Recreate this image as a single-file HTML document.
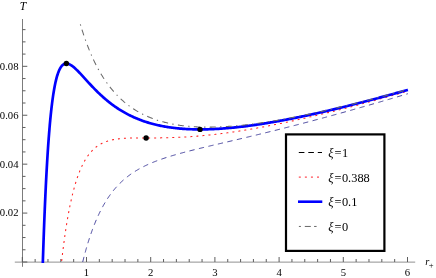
<!DOCTYPE html>
<html><head><meta charset="utf-8"><title>plot</title><style>html,body{margin:0;padding:0;background:#fff}svg{display:block;will-change:transform}</style></head><body>
<svg width="436" height="278" viewBox="0 0 436 278">
<rect width="436" height="278" fill="#fff"/>
<g stroke="#7c7c7c" stroke-width="1" fill="none">
<line x1="14.8" y1="262.12" x2="415.2" y2="262.12" stroke-width="0.85"/>
<line x1="22.5" y1="19" x2="22.5" y2="266.8"/>
</g>
<g stroke="#555555" stroke-width="0.95" fill="none">
<line x1="22.30" y1="262.0" x2="22.30" y2="257.0"/>
<line x1="35.14" y1="262.0" x2="35.14" y2="259.0"/>
<line x1="47.98" y1="262.0" x2="47.98" y2="259.0"/>
<line x1="60.82" y1="262.0" x2="60.82" y2="259.0"/>
<line x1="73.66" y1="262.0" x2="73.66" y2="259.0"/>
<line x1="86.50" y1="262.0" x2="86.50" y2="257.0"/>
<line x1="99.34" y1="262.0" x2="99.34" y2="259.0"/>
<line x1="112.18" y1="262.0" x2="112.18" y2="259.0"/>
<line x1="125.02" y1="262.0" x2="125.02" y2="259.0"/>
<line x1="137.86" y1="262.0" x2="137.86" y2="259.0"/>
<line x1="150.70" y1="262.0" x2="150.70" y2="257.0"/>
<line x1="163.54" y1="262.0" x2="163.54" y2="259.0"/>
<line x1="176.38" y1="262.0" x2="176.38" y2="259.0"/>
<line x1="189.22" y1="262.0" x2="189.22" y2="259.0"/>
<line x1="202.06" y1="262.0" x2="202.06" y2="259.0"/>
<line x1="214.90" y1="262.0" x2="214.90" y2="257.0"/>
<line x1="227.74" y1="262.0" x2="227.74" y2="259.0"/>
<line x1="240.58" y1="262.0" x2="240.58" y2="259.0"/>
<line x1="253.42" y1="262.0" x2="253.42" y2="259.0"/>
<line x1="266.26" y1="262.0" x2="266.26" y2="259.0"/>
<line x1="279.10" y1="262.0" x2="279.10" y2="257.0"/>
<line x1="291.94" y1="262.0" x2="291.94" y2="259.0"/>
<line x1="304.78" y1="262.0" x2="304.78" y2="259.0"/>
<line x1="317.62" y1="262.0" x2="317.62" y2="259.0"/>
<line x1="330.46" y1="262.0" x2="330.46" y2="259.0"/>
<line x1="343.30" y1="262.0" x2="343.30" y2="257.0"/>
<line x1="356.14" y1="262.0" x2="356.14" y2="259.0"/>
<line x1="368.98" y1="262.0" x2="368.98" y2="259.0"/>
<line x1="381.82" y1="262.0" x2="381.82" y2="259.0"/>
<line x1="394.66" y1="262.0" x2="394.66" y2="259.0"/>
<line x1="407.50" y1="262.0" x2="407.50" y2="257.0"/>
<line x1="22.5" y1="262.00" x2="27.3" y2="262.00"/>
<line x1="22.5" y1="249.77" x2="25.5" y2="249.77"/>
<line x1="22.5" y1="237.54" x2="25.5" y2="237.54"/>
<line x1="22.5" y1="225.31" x2="25.5" y2="225.31"/>
<line x1="22.5" y1="213.08" x2="27.3" y2="213.08"/>
<line x1="22.5" y1="200.85" x2="25.5" y2="200.85"/>
<line x1="22.5" y1="188.62" x2="25.5" y2="188.62"/>
<line x1="22.5" y1="176.39" x2="25.5" y2="176.39"/>
<line x1="22.5" y1="164.16" x2="27.3" y2="164.16"/>
<line x1="22.5" y1="151.93" x2="25.5" y2="151.93"/>
<line x1="22.5" y1="139.70" x2="25.5" y2="139.70"/>
<line x1="22.5" y1="127.47" x2="25.5" y2="127.47"/>
<line x1="22.5" y1="115.24" x2="27.3" y2="115.24"/>
<line x1="22.5" y1="103.01" x2="25.5" y2="103.01"/>
<line x1="22.5" y1="90.78" x2="25.5" y2="90.78"/>
<line x1="22.5" y1="78.55" x2="25.5" y2="78.55"/>
<line x1="22.5" y1="66.32" x2="27.3" y2="66.32"/>
<line x1="22.5" y1="54.09" x2="25.5" y2="54.09"/>
<line x1="22.5" y1="41.86" x2="25.5" y2="41.86"/>
<line x1="22.5" y1="29.63" x2="25.5" y2="29.63"/>
</g>
<path d="M82.70 262.00 L82.94 261.03 L83.19 260.06 L83.43 259.09 L83.68 258.12 L83.93 257.15 L84.19 256.18 L84.44 255.21 L84.70 254.25 L84.96 253.28 L85.23 252.31 L85.49 251.35 L85.76 250.38 L86.03 249.42 L86.31 248.46 L86.59 247.49 L86.87 246.53 L87.15 245.57 L87.44 244.61 L87.73 243.65 L88.03 242.69 L88.32 241.74 L88.62 240.78 L88.93 239.82 L89.23 238.87 L89.54 237.92 L89.86 236.96 L90.18 236.01 L90.50 235.06 L90.83 234.11 L91.15 233.17 L91.49 232.22 L91.83 231.27 L92.17 230.33 L92.51 229.39 L92.86 228.45 L93.22 227.52 L93.57 226.58 L93.94 225.65 L94.30 224.71 L94.68 223.78 L95.05 222.86 L95.43 221.93 L95.82 221.01 L96.21 220.08 L96.61 219.16 L97.01 218.24 L97.42 217.33 L97.83 216.41 L98.25 215.50 L98.68 214.59 L99.11 213.68 L99.54 212.78 L99.99 211.88 L100.43 210.98 L100.89 210.09 L101.35 209.20 L101.81 208.31 L102.29 207.43 L102.77 206.55 L103.25 205.67 L103.75 204.80 L104.25 203.93 L104.75 203.07 L105.27 202.21 L105.79 201.35 L106.32 200.50 L106.86 199.65 L107.40 198.81 L107.95 197.97 L108.51 197.14 L109.08 196.31 L109.65 195.50 L110.24 194.68 L110.83 193.87 L111.43 193.07 L112.04 192.27 L112.65 191.48 L113.28 190.69 L113.91 189.92 L114.55 189.15 L115.20 188.38 L115.86 187.62 L116.53 186.87 L117.20 186.13 L117.89 185.40 L118.58 184.67 L119.28 183.95 L119.99 183.24 L120.71 182.54 L121.43 181.85 L122.17 181.17 L122.91 180.49 L123.66 179.83 L124.41 179.17 L125.18 178.52 L125.95 177.88 L126.73 177.25 L127.51 176.63 L128.30 176.02 L129.11 175.42 L129.91 174.83 L130.73 174.24 L131.55 173.67 L132.37 173.10 L133.21 172.55 L134.05 172.00 L134.90 171.46 L135.75 170.93 L136.60 170.41 L137.47 169.90 L138.33 169.40 L139.21 168.90 L140.08 168.42 L140.96 167.94 L141.85 167.47 L142.74 167.01 L143.63 166.56 L144.53 166.11 L145.43 165.67 L146.34 165.24 L147.25 164.82 L148.16 164.40 L149.08 163.99 L150.00 163.59 L150.92 163.20 L151.85 162.81 L152.77 162.42 L153.70 162.05 L154.63 161.68 L155.57 161.31 L156.51 160.95 L157.44 160.60 L158.38 160.25 L159.33 159.91 L160.27 159.57 L161.22 159.24 L162.16 158.91 L163.11 158.58 L164.06 158.26 L165.02 157.95 L165.97 157.64 L166.92 157.33 L167.88 157.02 L168.84 156.72 L169.80 156.43 L170.75 156.13 L171.71 155.84 L172.67 155.55 L173.63 155.27 L174.60 154.99 L175.56 154.71 L176.53 154.43 L177.49 154.16 L178.46 153.89 L179.43 153.62 L180.39 153.36 L181.36 153.09 L182.33 152.83 L183.30 152.57 L184.26 152.31 L185.23 152.06 L186.20 151.80 L187.17 151.55 L188.15 151.30 L189.12 151.05 L190.09 150.80 L191.06 150.55 L192.03 150.31 L193.00 150.06 L193.98 149.82 L194.95 149.58 L195.93 149.34 L196.90 149.10 L197.87 148.86 L198.85 148.62 L199.82 148.38 L200.80 148.14 L201.78 147.91 L202.75 147.67 L203.73 147.44 L204.70 147.20 L205.68 146.97 L206.65 146.74 L207.63 146.50 L208.61 146.27 L209.58 146.04 L210.56 145.81 L211.53 145.58 L212.51 145.35 L213.48 145.12 L214.46 144.89 L215.44 144.66 L216.41 144.43 L217.39 144.20 L218.37 143.97 L219.34 143.74 L220.32 143.52 L221.30 143.29 L222.27 143.06 L223.25 142.83 L224.23 142.60 L225.20 142.37 L226.18 142.14 L227.15 141.92 L228.13 141.69 L229.11 141.46 L230.09 141.23 L231.07 141.00 L232.04 140.77 L233.02 140.54 L233.99 140.31 L234.97 140.08 L235.95 139.85 L236.93 139.62 L237.91 139.39 L238.88 139.16 L239.86 138.93 L240.84 138.70 L241.81 138.47 L242.79 138.24 L243.77 138.01 L244.74 137.77 L245.72 137.54 L246.69 137.31 L247.67 137.08 L248.65 136.85 L249.62 136.61 L250.60 136.38 L251.58 136.14 L252.56 135.91 L253.53 135.68 L254.51 135.44 L255.48 135.21 L256.46 134.97 L257.43 134.73 L258.41 134.50 L259.39 134.26 L260.36 134.02 L261.34 133.79 L262.31 133.55 L263.29 133.31 L264.27 133.07 L265.24 132.83 L266.22 132.59 L267.20 132.35 L268.17 132.11 L269.14 131.87 L270.12 131.63 L271.10 131.39 L272.07 131.15 L273.05 130.91 L274.02 130.67 L274.99 130.42 L275.97 130.18 L276.94 129.94 L277.91 129.69 L278.89 129.45 L279.87 129.20 L280.84 128.96 L281.81 128.71 L282.79 128.47 L283.76 128.22 L284.73 127.98 L285.71 127.73 L286.69 127.48 L287.66 127.23 L288.63 126.99 L289.61 126.74 L290.58 126.49 L291.55 126.24 L292.52 125.99 L293.50 125.74 L294.47 125.49 L295.44 125.24 L296.41 124.98 L297.39 124.73 L298.36 124.48 L299.33 124.23 L300.31 123.97 L301.28 123.72 L302.25 123.47 L303.23 123.21 L304.20 122.96 L305.18 122.70 L306.14 122.45 L307.12 122.19 L308.09 121.93 L309.07 121.68 L310.03 121.42 L311.01 121.16 L311.98 120.90 L312.95 120.65 L313.92 120.39 L314.89 120.13 L315.86 119.87 L316.84 119.61 L317.80 119.35 L318.77 119.09 L319.74 118.83 L320.72 118.57 L321.69 118.31 L322.66 118.04 L323.63 117.78 L324.60 117.52 L325.57 117.26 L326.54 116.99 L327.51 116.73 L328.48 116.47 L329.45 116.20 L330.42 115.94 L331.39 115.67 L332.35 115.41 L333.32 115.14 L334.30 114.87 L335.27 114.61 L336.24 114.34 L337.20 114.07 L338.17 113.81 L339.14 113.54 L340.12 113.27 L341.08 113.00 L342.05 112.73 L343.02 112.46 L343.99 112.19 L344.96 111.92 L345.93 111.65 L346.89 111.38 L347.86 111.11 L348.83 110.84 L349.80 110.57 L350.77 110.30 L351.73 110.02 L352.70 109.75 L353.67 109.48 L354.64 109.20 L355.60 108.93 L356.56 108.66 L357.53 108.39 L358.50 108.11 L359.47 107.84 L360.44 107.56 L361.40 107.29 L362.36 107.01 L363.33 106.74 L364.30 106.46 L365.27 106.18 L366.24 105.90 L367.20 105.63 L368.16 105.35 L369.13 105.07 L370.10 104.80 L371.07 104.52 L372.04 104.24 L373.00 103.96 L373.96 103.68 L374.93 103.40 L375.89 103.12 L376.86 102.84 L377.83 102.56 L378.79 102.28 L379.76 102.00 L380.72 101.72 L381.69 101.44 L382.65 101.16 L383.62 100.87 L384.58 100.59 L385.54 100.31 L386.51 100.03 L387.47 99.75 L388.44 99.46 L389.41 99.18 L390.38 98.89 L391.34 98.61 L392.30 98.33 L393.26 98.04 L394.23 97.76 L395.19 97.47 L396.16 97.19 L397.13 96.90 L398.09 96.61 L399.05 96.33 L400.01 96.04 L400.98 95.76 L401.94 95.47 L402.91 95.18 L403.88 94.89 L404.84 94.61 L405.80 94.32 L406.76 94.03 L407.73 93.74 L407.90 93.69" fill="none" stroke="#3f3d99" stroke-width="0.95" stroke-dasharray="5.3 4.45"/>
<path d="M61.55 262.00 L61.66 261.00 L61.78 260.01 L61.89 259.02 L62.01 258.02 L62.12 257.03 L62.24 256.03 L62.36 255.04 L62.48 254.04 L62.60 253.05 L62.72 252.05 L62.84 251.06 L62.97 250.06 L63.09 249.07 L63.22 248.07 L63.34 247.08 L63.47 246.08 L63.60 245.08 L63.73 244.09 L63.86 243.09 L64.00 242.09 L64.13 241.10 L64.27 240.11 L64.40 239.11 L64.54 238.12 L64.68 237.13 L64.82 236.13 L64.96 235.14 L65.11 234.15 L65.25 233.15 L65.40 232.16 L65.55 231.17 L65.69 230.18 L65.85 229.18 L66.00 228.19 L66.15 227.19 L66.31 226.20 L66.47 225.21 L66.63 224.21 L66.79 223.23 L66.95 222.23 L67.11 221.25 L67.28 220.26 L67.45 219.26 L67.62 218.28 L67.79 217.29 L67.97 216.30 L68.14 215.31 L68.32 214.32 L68.50 213.33 L68.69 212.35 L68.87 211.36 L69.06 210.38 L69.25 209.39 L69.44 208.41 L69.64 207.43 L69.84 206.44 L70.04 205.45 L70.24 204.47 L70.45 203.49 L70.65 202.51 L70.87 201.52 L71.08 200.54 L71.30 199.56 L71.52 198.58 L71.75 197.60 L71.98 196.62 L72.21 195.65 L72.44 194.66 L72.68 193.69 L72.93 192.71 L73.17 191.74 L73.42 190.77 L73.68 189.79 L73.94 188.83 L74.20 187.86 L74.47 186.89 L74.74 185.92 L75.02 184.95 L75.30 183.99 L75.59 183.02 L75.89 182.06 L76.19 181.10 L76.49 180.14 L76.80 179.19 L77.12 178.23 L77.44 177.29 L77.77 176.34 L78.11 175.39 L78.46 174.45 L78.81 173.51 L79.17 172.57 L79.53 171.64 L79.91 170.71 L80.29 169.78 L80.69 168.85 L81.09 167.93 L81.50 167.02 L81.92 166.11 L82.35 165.20 L82.80 164.30 L83.25 163.41 L83.72 162.52 L84.19 161.64 L84.68 160.77 L85.19 159.90 L85.71 159.04 L86.24 158.19 L86.78 157.35 L87.34 156.52 L87.92 155.70 L88.51 154.89 L89.12 154.09 L89.75 153.31 L90.39 152.54 L91.05 151.78 L91.73 151.04 L92.42 150.32 L93.14 149.62 L93.87 148.93 L94.62 148.27 L95.39 147.62 L96.17 147.00 L96.97 146.40 L97.80 145.82 L98.63 145.27 L99.48 144.74 L100.35 144.24 L101.23 143.76 L102.12 143.31 L103.02 142.88 L103.94 142.47 L104.87 142.09 L105.80 141.73 L106.75 141.40 L107.70 141.08 L108.66 140.79 L109.62 140.52 L110.59 140.27 L111.57 140.04 L112.54 139.83 L113.53 139.63 L114.51 139.45 L115.50 139.28 L116.49 139.13 L117.48 138.99 L118.48 138.87 L119.47 138.75 L120.47 138.65 L121.47 138.56 L122.47 138.47 L123.47 138.40 L124.47 138.33 L125.47 138.27 L126.47 138.22 L127.47 138.17 L128.47 138.13 L129.48 138.10 L130.48 138.07 L131.48 138.04 L132.49 138.02 L133.49 138.00 L134.49 137.98 L135.50 137.97 L136.50 137.96 L137.50 137.95 L138.50 137.95 L139.51 137.94 L140.51 137.94 L141.51 137.93 L142.51 137.93 L143.51 137.93 L144.51 137.93 L145.52 137.93 L146.52 137.93 L147.52 137.93 L148.53 137.93 L149.53 137.93 L150.54 137.93 L151.54 137.93 L152.54 137.92 L153.55 137.92 L154.55 137.92 L155.55 137.91 L156.55 137.90 L157.55 137.90 L158.56 137.89 L159.56 137.88 L160.56 137.86 L161.57 137.85 L162.57 137.84 L163.57 137.82 L164.57 137.80 L165.58 137.78 L166.58 137.76 L167.58 137.74 L168.59 137.71 L169.59 137.68 L170.59 137.66 L171.59 137.62 L172.59 137.59 L173.60 137.56 L174.60 137.52 L175.60 137.48 L176.61 137.44 L177.61 137.40 L178.61 137.35 L179.61 137.31 L180.61 137.26 L181.62 137.21 L182.62 137.16 L183.62 137.10 L184.62 137.05 L185.62 136.99 L186.62 136.93 L187.62 136.86 L188.62 136.80 L189.62 136.73 L190.62 136.66 L191.62 136.59 L192.62 136.52 L193.63 136.44 L194.63 136.37 L195.63 136.29 L196.63 136.21 L197.63 136.12 L198.63 136.04 L199.63 135.95 L200.63 135.86 L201.62 135.77 L202.62 135.68 L203.62 135.58 L204.62 135.49 L205.62 135.39 L206.62 135.29 L207.61 135.19 L208.61 135.08 L209.60 134.98 L210.60 134.87 L211.60 134.76 L212.60 134.65 L213.60 134.54 L214.60 134.42 L215.60 134.30 L216.59 134.19 L217.59 134.07 L218.58 133.94 L219.58 133.82 L220.58 133.69 L221.57 133.57 L222.57 133.44 L223.57 133.31 L224.56 133.18 L225.55 133.04 L226.55 132.91 L227.55 132.77 L228.54 132.63 L229.53 132.49 L230.53 132.35 L231.52 132.21 L232.51 132.06 L233.51 131.92 L234.50 131.77 L235.50 131.62 L236.49 131.47 L237.48 131.32 L238.47 131.17 L239.46 131.01 L240.46 130.86 L241.45 130.70 L242.44 130.54 L243.43 130.38 L244.42 130.22 L245.41 130.05 L246.40 129.89 L247.39 129.72 L248.38 129.56 L249.38 129.39 L250.36 129.22 L251.35 129.05 L252.35 128.88 L253.33 128.70 L254.32 128.53 L255.32 128.35 L256.30 128.18 L257.29 128.00 L258.28 127.82 L259.26 127.64 L260.25 127.46 L261.24 127.27 L262.23 127.09 L263.22 126.90 L264.21 126.72 L265.20 126.53 L266.18 126.34 L267.17 126.15 L268.15 125.96 L269.14 125.77 L270.12 125.58 L271.11 125.38 L272.10 125.19 L273.08 124.99 L274.06 124.79 L275.05 124.59 L276.04 124.39 L277.02 124.19 L278.01 123.99 L278.99 123.79 L279.97 123.59 L280.96 123.39 L281.94 123.18 L282.93 122.97 L283.91 122.77 L284.89 122.56 L285.87 122.35 L286.86 122.14 L287.84 121.93 L288.82 121.72 L289.80 121.51 L290.79 121.30 L291.76 121.08 L292.74 120.87 L293.73 120.65 L294.71 120.44 L295.69 120.22 L296.66 120.00 L297.65 119.78 L298.63 119.56 L299.61 119.34 L300.59 119.12 L301.57 118.90 L302.55 118.68 L303.53 118.45 L304.51 118.23 L305.49 118.00 L306.47 117.78 L307.45 117.55 L308.43 117.32 L309.41 117.09 L310.39 116.86 L311.37 116.64 L312.35 116.40 L313.32 116.17 L314.30 115.94 L315.27 115.71 L316.25 115.48 L317.23 115.24 L318.21 115.01 L319.18 114.78 L320.16 114.54 L321.14 114.30 L322.12 114.06 L323.09 113.83 L324.06 113.59 L325.04 113.35 L326.02 113.11 L327.00 112.87 L327.97 112.63 L328.94 112.39 L329.91 112.15 L330.89 111.91 L331.87 111.66 L332.85 111.42 L333.82 111.17 L334.79 110.93 L335.77 110.68 L336.75 110.44 L337.73 110.19 L338.69 109.94 L339.67 109.69 L340.64 109.45 L341.61 109.20 L342.59 108.95 L343.57 108.70 L344.54 108.45 L345.51 108.20 L346.48 107.94 L347.46 107.69 L348.44 107.44 L349.41 107.18 L350.38 106.93 L351.35 106.68 L352.33 106.42 L353.30 106.17 L354.28 105.91 L355.25 105.65 L356.22 105.40 L357.19 105.14 L358.16 104.88 L359.14 104.62 L360.11 104.37 L361.09 104.11 L362.05 103.85 L363.02 103.59 L363.99 103.33 L364.96 103.07 L365.94 102.80 L366.91 102.54 L367.88 102.28 L368.84 102.02 L369.81 101.76 L370.78 101.49 L371.75 101.23 L372.73 100.96 L373.70 100.70 L374.67 100.43 L375.63 100.17 L376.60 99.90 L377.57 99.64 L378.54 99.37 L379.52 99.10 L380.49 98.83 L381.46 98.57 L382.42 98.30 L383.39 98.03 L384.36 97.76 L385.33 97.49 L386.30 97.22 L387.27 96.95 L388.24 96.68 L389.20 96.41 L390.17 96.14 L391.14 95.87 L392.11 95.59 L393.08 95.32 L394.05 95.05 L395.02 94.77 L395.99 94.50 L396.95 94.23 L397.92 93.95 L398.88 93.68 L399.85 93.40 L400.82 93.13 L401.80 92.85 L402.76 92.57 L403.72 92.30 L404.69 92.02 L405.65 91.75 L406.62 91.47 L407.59 91.19 L407.90 91.10" fill="none" stroke="#ff2222" stroke-width="1.05" stroke-dasharray="2 4.04" stroke-dashoffset="-1"/>
<path d="M42.81 263.00 L42.84 262.00 L42.88 261.00 L42.91 260.00 L42.94 258.99 L42.97 257.99 L43.00 256.99 L43.04 255.99 L43.07 254.98 L43.10 253.98 L43.14 252.98 L43.17 251.98 L43.20 250.98 L43.24 249.98 L43.27 248.98 L43.30 247.98 L43.34 246.97 L43.37 245.96 L43.41 244.95 L43.44 243.94 L43.48 242.93 L43.51 241.92 L43.55 240.91 L43.59 239.90 L43.62 238.89 L43.66 237.89 L43.69 236.88 L43.73 235.88 L43.77 234.88 L43.80 233.87 L43.84 232.85 L43.88 231.85 L43.91 230.84 L43.95 229.83 L43.99 228.82 L44.03 227.82 L44.07 226.80 L44.11 225.80 L44.14 224.78 L44.18 223.78 L44.22 222.77 L44.26 221.76 L44.30 220.75 L44.34 219.75 L44.38 218.74 L44.42 217.73 L44.46 216.73 L44.50 215.72 L44.54 214.71 L44.58 213.71 L44.63 212.70 L44.67 211.69 L44.71 210.67 L44.75 209.67 L44.79 208.66 L44.84 207.65 L44.88 206.63 L44.92 205.63 L44.97 204.63 L45.01 203.62 L45.06 202.61 L45.10 201.60 L45.15 200.58 L45.19 199.58 L45.24 198.58 L45.28 197.57 L45.33 196.57 L45.37 195.56 L45.42 194.54 L45.47 193.53 L45.52 192.51 L45.56 191.49 L45.61 190.49 L45.66 189.49 L45.71 188.49 L45.76 187.48 L45.80 186.48 L45.85 185.47 L45.90 184.46 L45.95 183.46 L46.01 182.45 L46.06 181.44 L46.11 180.43 L46.16 179.42 L46.21 178.41 L46.27 177.40 L46.32 176.39 L46.37 175.38 L46.43 174.37 L46.48 173.36 L46.54 172.35 L46.59 171.34 L46.65 170.33 L46.70 169.33 L46.76 168.32 L46.82 167.31 L46.87 166.31 L46.93 165.31 L46.99 164.31 L47.05 163.31 L47.11 162.29 L47.17 161.27 L47.23 160.25 L47.29 159.24 L47.35 158.23 L47.42 157.22 L47.48 156.21 L47.54 155.21 L47.61 154.21 L47.67 153.21 L47.74 152.19 L47.80 151.17 L47.87 150.16 L47.94 149.15 L48.00 148.15 L48.07 147.15 L48.14 146.15 L48.21 145.13 L48.28 144.12 L48.35 143.12 L48.43 142.11 L48.50 141.11 L48.57 140.10 L48.65 139.09 L48.72 138.08 L48.80 137.08 L48.88 136.07 L48.96 135.05 L49.04 134.05 L49.11 133.05 L49.20 132.04 L49.28 131.03 L49.36 130.02 L49.45 129.01 L49.53 128.00 L49.62 127.00 L49.71 125.98 L49.79 124.97 L49.88 123.97 L49.97 122.96 L50.07 121.96 L50.16 120.96 L50.25 119.95 L50.35 118.95 L50.45 117.94 L50.55 116.94 L50.65 115.93 L50.75 114.93 L50.85 113.92 L50.96 112.92 L51.07 111.92 L51.17 110.92 L51.29 109.92 L51.40 108.91 L51.51 107.91 L51.63 106.91 L51.75 105.90 L51.87 104.90 L51.99 103.90 L52.12 102.90 L52.25 101.90 L52.38 100.89 L52.51 99.89 L52.65 98.90 L52.78 97.91 L52.93 96.92 L53.07 95.91 L53.22 94.91 L53.37 93.92 L53.53 92.93 L53.69 91.93 L53.85 90.93 L54.02 89.95 L54.19 88.95 L54.37 87.96 L54.56 86.98 L54.74 85.99 L54.94 85.01 L55.14 84.02 L55.35 83.04 L55.56 82.06 L55.79 81.08 L56.02 80.10 L56.26 79.13 L56.51 78.15 L56.78 77.18 L57.05 76.22 L57.34 75.26 L57.65 74.30 L57.97 73.35 L58.31 72.40 L58.67 71.47 L59.06 70.55 L59.48 69.63 L59.93 68.74 L60.42 67.86 L60.96 67.02 L61.56 66.22 L62.22 65.47 L62.96 64.79 L63.79 64.23 L64.70 63.82 L65.68 63.59 L66.68 63.56 L67.67 63.70 L68.63 63.98 L69.56 64.36 L70.44 64.83 L71.30 65.35 L72.12 65.91 L72.92 66.52 L73.70 67.15 L74.47 67.80 L75.21 68.47 L75.94 69.15 L76.67 69.85 L77.38 70.55 L78.08 71.26 L78.78 71.98 L79.47 72.71 L80.16 73.44 L80.85 74.17 L81.53 74.91 L82.21 75.65 L82.89 76.39 L83.56 77.13 L84.24 77.87 L84.91 78.62 L85.59 79.36 L86.26 80.10 L86.94 80.84 L87.61 81.58 L88.29 82.32 L88.97 83.06 L89.65 83.79 L90.33 84.53 L91.02 85.26 L91.71 85.99 L92.40 86.72 L93.09 87.44 L93.79 88.16 L94.49 88.88 L95.19 89.60 L95.90 90.31 L96.61 91.02 L97.33 91.72 L98.04 92.42 L98.76 93.12 L99.49 93.81 L100.22 94.50 L100.96 95.18 L101.70 95.86 L102.44 96.54 L103.19 97.21 L103.95 97.87 L104.71 98.53 L105.47 99.18 L106.24 99.83 L107.01 100.48 L107.79 101.11 L108.57 101.74 L109.36 102.37 L110.15 102.99 L110.95 103.60 L111.75 104.21 L112.55 104.80 L113.37 105.40 L114.18 105.98 L115.00 106.56 L115.83 107.13 L116.65 107.70 L117.49 108.25 L118.33 108.80 L119.17 109.35 L120.02 109.88 L120.87 110.41 L121.73 110.93 L122.59 111.44 L123.46 111.95 L124.33 112.45 L125.21 112.94 L126.09 113.42 L126.97 113.90 L127.86 114.37 L128.76 114.83 L129.65 115.28 L130.55 115.72 L131.45 116.15 L132.36 116.58 L133.27 117.00 L134.19 117.41 L135.11 117.82 L136.03 118.21 L136.96 118.60 L137.88 118.98 L138.82 119.36 L139.75 119.72 L140.69 120.07 L141.63 120.42 L142.57 120.77 L143.52 121.10 L144.46 121.42 L145.42 121.74 L146.37 122.05 L147.33 122.35 L148.29 122.65 L149.25 122.94 L150.21 123.22 L151.18 123.49 L152.15 123.76 L153.12 124.02 L154.09 124.27 L155.06 124.51 L156.04 124.75 L157.02 124.98 L157.99 125.20 L158.97 125.42 L159.95 125.63 L160.93 125.83 L161.92 126.03 L162.90 126.22 L163.89 126.40 L164.88 126.58 L165.86 126.75 L166.86 126.92 L167.84 127.08 L168.83 127.23 L169.83 127.38 L170.82 127.52 L171.82 127.65 L172.81 127.78 L173.81 127.91 L174.80 128.03 L175.80 128.14 L176.80 128.25 L177.80 128.35 L178.80 128.45 L179.79 128.54 L180.79 128.62 L181.79 128.71 L182.79 128.78 L183.80 128.85 L184.79 128.92 L185.80 128.98 L186.80 129.04 L187.80 129.09 L188.81 129.14 L189.81 129.19 L190.81 129.23 L191.82 129.26 L192.82 129.29 L193.82 129.32 L194.82 129.34 L195.83 129.36 L196.83 129.37 L197.84 129.38 L198.84 129.39 L199.84 129.39 L200.85 129.39 L201.85 129.39 L202.86 129.38 L203.86 129.37 L204.86 129.35 L205.87 129.33 L206.87 129.31 L207.87 129.28 L208.87 129.25 L209.88 129.22 L210.88 129.18 L211.88 129.14 L212.89 129.10 L213.89 129.05 L214.89 129.01 L215.90 128.95 L216.90 128.90 L217.91 128.84 L218.91 128.78 L219.91 128.72 L220.91 128.65 L221.91 128.58 L222.91 128.51 L223.91 128.43 L224.92 128.35 L225.92 128.27 L226.92 128.19 L227.92 128.11 L228.92 128.02 L229.92 127.93 L230.92 127.84 L231.92 127.74 L232.92 127.64 L233.92 127.54 L234.92 127.44 L235.92 127.34 L236.92 127.23 L237.91 127.12 L238.91 127.01 L239.91 126.90 L240.90 126.78 L241.90 126.66 L242.90 126.54 L243.90 126.42 L244.89 126.30 L245.89 126.17 L246.89 126.04 L247.88 125.91 L248.88 125.78 L249.88 125.65 L250.87 125.51 L251.86 125.38 L252.86 125.24 L253.86 125.10 L254.85 124.95 L255.84 124.81 L256.84 124.66 L257.83 124.52 L258.82 124.37 L259.82 124.22 L260.81 124.06 L261.80 123.91 L262.79 123.75 L263.79 123.60 L264.78 123.44 L265.77 123.28 L266.76 123.11 L267.75 122.95 L268.74 122.78 L269.73 122.62 L270.72 122.45 L271.71 122.28 L272.71 122.11 L273.69 121.94 L274.68 121.76 L275.67 121.59 L276.66 121.41 L277.65 121.24 L278.63 121.06 L279.62 120.88 L280.61 120.69 L281.61 120.51 L282.59 120.33 L283.58 120.14 L284.57 119.96 L285.56 119.77 L286.54 119.58 L287.53 119.39 L288.52 119.20 L289.50 119.00 L290.50 118.81 L291.48 118.62 L292.46 118.42 L293.45 118.22 L294.44 118.02 L295.42 117.83 L296.40 117.63 L297.39 117.43 L298.38 117.22 L299.36 117.02 L300.34 116.81 L301.33 116.61 L302.31 116.40 L303.30 116.20 L304.28 115.99 L305.26 115.78 L306.24 115.57 L307.23 115.36 L308.21 115.14 L309.20 114.93 L310.18 114.72 L311.16 114.50 L312.14 114.29 L313.12 114.07 L314.11 113.85 L315.08 113.63 L316.06 113.42 L317.04 113.20 L318.02 112.98 L319.01 112.75 L319.99 112.53 L320.97 112.31 L321.94 112.08 L322.92 111.86 L323.91 111.63 L324.89 111.40 L325.86 111.18 L326.84 110.95 L327.82 110.72 L328.80 110.49 L329.78 110.26 L330.76 110.03 L331.73 109.80 L332.71 109.57 L333.68 109.33 L334.66 109.10 L335.64 108.86 L336.62 108.63 L337.60 108.39 L338.57 108.16 L339.55 107.92 L340.52 107.68 L341.50 107.44 L342.48 107.20 L343.46 106.96 L344.44 106.72 L345.41 106.48 L346.39 106.24 L347.36 106.00 L348.34 105.75 L349.32 105.51 L350.29 105.26 L351.27 105.02 L352.24 104.77 L353.22 104.53 L354.19 104.28 L355.17 104.03 L356.15 103.78 L357.12 103.53 L358.09 103.29 L359.07 103.04 L360.04 102.79 L361.02 102.53 L362.00 102.28 L362.97 102.03 L363.94 101.78 L364.92 101.52 L365.89 101.27 L366.86 101.02 L367.84 100.76 L368.81 100.51 L369.79 100.25 L370.76 99.99 L371.73 99.74 L372.70 99.48 L373.67 99.22 L374.65 98.97 L375.62 98.71 L376.60 98.45 L377.56 98.19 L378.53 97.93 L379.50 97.67 L380.47 97.41 L381.44 97.15 L382.42 96.88 L383.39 96.62 L384.37 96.36 L385.33 96.09 L386.30 95.83 L387.27 95.57 L388.24 95.30 L389.21 95.04 L390.18 94.77 L391.16 94.51 L392.13 94.24 L393.10 93.97 L394.06 93.71 L395.03 93.44 L396.00 93.17 L396.97 92.90 L397.94 92.64 L398.91 92.37 L399.89 92.09 L400.85 91.83 L401.82 91.56 L402.78 91.29 L403.75 91.02 L404.72 90.75 L405.69 90.47 L406.66 90.20 L407.63 89.93 L407.90 89.85" fill="none" stroke="#0000ff" stroke-width="2.7" stroke-linejoin="round"/>
<path d="M80.36 24.30 L80.64 25.26 L80.93 26.22 L81.22 27.17 L81.51 28.13 L81.81 29.09 L82.11 30.04 L82.41 31.00 L82.72 31.95 L83.03 32.90 L83.34 33.86 L83.65 34.81 L83.97 35.76 L84.29 36.71 L84.62 37.65 L84.95 38.60 L85.28 39.55 L85.62 40.49 L85.96 41.43 L86.30 42.38 L86.65 43.32 L87.00 44.26 L87.35 45.19 L87.71 46.13 L88.07 47.06 L88.44 47.99 L88.81 48.93 L89.18 49.85 L89.56 50.78 L89.95 51.70 L90.33 52.63 L90.73 53.55 L91.12 54.47 L91.52 55.39 L91.93 56.31 L92.34 57.22 L92.76 58.14 L93.18 59.05 L93.60 59.95 L94.03 60.86 L94.46 61.76 L94.90 62.66 L95.35 63.56 L95.80 64.45 L96.25 65.35 L96.72 66.24 L97.18 67.13 L97.65 68.01 L98.13 68.89 L98.61 69.77 L99.10 70.64 L99.60 71.51 L100.10 72.38 L100.60 73.25 L101.12 74.11 L101.63 74.97 L102.16 75.82 L102.69 76.67 L103.22 77.52 L103.77 78.36 L104.32 79.19 L104.87 80.03 L105.43 80.86 L106.00 81.68 L106.58 82.50 L107.16 83.32 L107.75 84.13 L108.35 84.94 L108.95 85.74 L109.56 86.53 L110.18 87.32 L110.80 88.11 L111.43 88.89 L112.07 89.66 L112.72 90.43 L113.37 91.19 L114.03 91.94 L114.70 92.69 L115.37 93.44 L116.05 94.17 L116.74 94.90 L117.44 95.63 L118.14 96.34 L118.85 97.05 L119.57 97.75 L120.29 98.45 L121.02 99.13 L121.76 99.81 L122.51 100.48 L123.26 101.14 L124.01 101.80 L124.78 102.44 L125.55 103.08 L126.33 103.71 L127.11 104.33 L127.90 104.94 L128.70 105.55 L129.51 106.14 L130.32 106.73 L131.14 107.31 L131.96 107.88 L132.79 108.44 L133.63 108.99 L134.47 109.53 L135.32 110.07 L136.18 110.59 L137.04 111.11 L137.90 111.61 L138.78 112.11 L139.65 112.60 L140.53 113.08 L141.42 113.55 L142.31 114.01 L143.20 114.46 L144.11 114.90 L145.01 115.33 L145.92 115.76 L146.83 116.17 L147.75 116.57 L148.67 116.97 L149.59 117.35 L150.52 117.73 L151.45 118.10 L152.39 118.46 L153.33 118.81 L154.27 119.15 L155.22 119.49 L156.16 119.81 L157.12 120.13 L158.07 120.44 L159.03 120.74 L159.99 121.03 L160.95 121.31 L161.92 121.59 L162.88 121.86 L163.85 122.11 L164.82 122.37 L165.80 122.61 L166.77 122.85 L167.75 123.07 L168.73 123.30 L169.70 123.51 L170.69 123.72 L171.67 123.92 L172.65 124.11 L173.64 124.29 L174.63 124.47 L175.62 124.65 L176.61 124.81 L177.60 124.97 L178.59 125.12 L179.58 125.27 L180.58 125.41 L181.57 125.54 L182.57 125.67 L183.56 125.79 L184.56 125.91 L185.56 126.02 L186.56 126.12 L187.55 126.22 L188.56 126.31 L189.56 126.40 L190.55 126.48 L191.56 126.56 L192.56 126.63 L193.56 126.70 L194.56 126.76 L195.56 126.82 L196.56 126.87 L197.57 126.92 L198.57 126.96 L199.57 127.00 L200.58 127.03 L201.58 127.06 L202.58 127.08 L203.58 127.11 L204.59 127.12 L205.59 127.13 L206.60 127.14 L207.60 127.14 L208.60 127.14 L209.61 127.14 L210.61 127.13 L211.61 127.12 L212.62 127.10 L213.62 127.09 L214.62 127.06 L215.62 127.04 L216.63 127.01 L217.63 126.97 L218.64 126.94 L219.64 126.90 L220.64 126.85 L221.65 126.81 L222.65 126.76 L223.65 126.70 L224.66 126.65 L225.66 126.59 L226.67 126.53 L227.67 126.46 L228.67 126.39 L229.67 126.32 L230.68 126.25 L231.68 126.17 L232.68 126.09 L233.68 126.01 L234.68 125.93 L235.68 125.84 L236.68 125.75 L237.68 125.66 L238.68 125.56 L239.68 125.47 L240.68 125.37 L241.68 125.26 L242.68 125.16 L243.68 125.05 L244.67 124.94 L245.67 124.83 L246.67 124.72 L247.66 124.60 L248.66 124.49 L249.66 124.37 L250.66 124.24 L251.65 124.12 L252.65 124.00 L253.65 123.87 L254.64 123.74 L255.64 123.60 L256.63 123.47 L257.62 123.34 L258.62 123.20 L259.61 123.06 L260.61 122.92 L261.61 122.77 L262.60 122.63 L263.59 122.48 L264.58 122.33 L265.58 122.18 L266.57 122.03 L267.56 121.88 L268.55 121.72 L269.55 121.57 L270.53 121.41 L271.53 121.25 L272.52 121.09 L273.51 120.93 L274.50 120.76 L275.49 120.59 L276.48 120.43 L277.47 120.26 L278.46 120.09 L279.45 119.92 L280.44 119.74 L281.43 119.57 L282.41 119.39 L283.40 119.22 L284.39 119.04 L285.38 118.86 L286.37 118.68 L287.35 118.49 L288.35 118.31 L289.33 118.13 L290.32 117.94 L291.31 117.75 L292.29 117.56 L293.27 117.37 L294.26 117.18 L295.25 116.99 L296.23 116.80 L297.22 116.60 L298.20 116.41 L299.19 116.21 L300.18 116.01 L301.16 115.81 L302.15 115.61 L303.13 115.41 L304.11 115.21 L305.10 115.01 L306.08 114.80 L307.06 114.60 L308.04 114.39 L309.03 114.18 L310.02 113.97 L310.99 113.77 L311.98 113.56 L312.96 113.34 L313.94 113.13 L314.92 112.92 L315.90 112.71 L316.89 112.49 L317.87 112.27 L318.85 112.06 L319.83 111.84 L320.81 111.62 L321.79 111.40 L322.77 111.18 L323.74 110.96 L324.72 110.74 L325.71 110.52 L326.69 110.29 L327.67 110.07 L328.64 109.84 L329.62 109.62 L330.61 109.39 L331.58 109.16 L332.56 108.94 L333.54 108.71 L334.52 108.48 L335.50 108.25 L336.47 108.02 L337.45 107.78 L338.43 107.55 L339.41 107.32 L340.39 107.08 L341.36 106.85 L342.34 106.61 L343.31 106.38 L344.29 106.14 L345.27 105.90 L346.25 105.66 L347.22 105.42 L348.20 105.18 L349.18 104.94 L350.16 104.70 L351.13 104.46 L352.10 104.22 L353.08 103.98 L354.05 103.73 L355.03 103.49 L356.00 103.24 L356.98 103.00 L357.95 102.75 L358.93 102.51 L359.90 102.26 L360.88 102.01 L361.85 101.76 L362.83 101.51 L363.80 101.26 L364.78 101.01 L365.75 100.76 L366.72 100.51 L367.69 100.26 L368.67 100.01 L369.64 99.76 L370.62 99.50 L371.59 99.25 L372.56 98.99 L373.53 98.74 L374.50 98.48 L375.48 98.23 L376.45 97.97 L377.43 97.71 L378.40 97.46 L379.37 97.20 L380.34 96.94 L381.31 96.68 L382.28 96.42 L383.26 96.16 L384.23 95.90 L385.19 95.64 L386.16 95.38 L387.14 95.12 L388.11 94.86 L389.08 94.59 L390.05 94.33 L391.01 94.07 L391.98 93.81 L392.95 93.54 L393.92 93.28 L394.90 93.01 L395.87 92.74 L396.84 92.48 L397.80 92.21 L398.77 91.95 L399.74 91.68 L400.71 91.41 L401.68 91.14 L402.66 90.87 L403.62 90.61 L404.59 90.34 L405.56 90.07 L406.53 89.80 L407.50 89.53 L407.90 89.41" fill="none" stroke="#6a6a6a" stroke-width="1.05" stroke-dasharray="1.3 4.35 6 4.35"/>
<circle cx="66.36" cy="63.55" r="2.7" fill="#000"/>
<circle cx="200.02" cy="129.39" r="2.7" fill="#000"/>
<circle cx="146.12" cy="137.93" r="2.7" fill="#000"/>
<g font-family="Liberation Serif, serif" font-size="10.7" fill="#000">
<text x="18.5" y="216.48" text-anchor="end">0.02</text>
<text x="18.5" y="167.56" text-anchor="end">0.04</text>
<text x="18.5" y="118.64" text-anchor="end">0.06</text>
<text x="18.5" y="69.72" text-anchor="end">0.08</text>
<text x="86.50" y="275.5" text-anchor="middle">1</text>
<text x="150.70" y="275.5" text-anchor="middle">2</text>
<text x="214.90" y="275.5" text-anchor="middle">3</text>
<text x="279.10" y="275.5" text-anchor="middle">4</text>
<text x="343.30" y="275.5" text-anchor="middle">5</text>
<text x="407.50" y="275.5" text-anchor="middle">6</text>
</g>
<text x="23.1" y="9.8" font-family="Liberation Serif, serif" font-size="11.6" font-style="italic" text-anchor="middle">T</text>
<text x="425.2" y="265.4" font-family="Liberation Serif, serif" font-size="10.5" font-style="italic">r<tspan font-size="8.6" dy="2.4" dx="-0.6" font-style="normal">+</tspan></text>
<rect x="286.0" y="134.4" width="98.4" height="116.5" fill="#fff" stroke="#000" stroke-width="2.2"/>
<line x1="298.8" x2="322" y1="152.4" y2="152.4" stroke="#000" stroke-width="1.05" stroke-dasharray="5.6 3.9"/>
<line x1="298.8" x2="320" y1="177.1" y2="177.1" stroke="#ff4d55" stroke-width="1.4" stroke-dasharray="2 4.07"/>
<line x1="298" x2="322.3" y1="201.7" y2="201.7" stroke="#0000ff" stroke-width="2.6"/>
<line x1="298.9" x2="317" y1="226.45" y2="226.45" stroke="#666" stroke-width="1" stroke-dasharray="2 3.9 6 3.3 2.5 10"/>
<text x="328.2" y="156.90" font-family="Liberation Serif, serif" font-size="12.4" fill="#000"><tspan font-style="italic">ξ</tspan><tspan dx="0.9">=</tspan><tspan dx="0.5">1</tspan></text>
<text x="328.2" y="181.60" font-family="Liberation Serif, serif" font-size="12.4" fill="#000"><tspan font-style="italic">ξ</tspan><tspan dx="0.9">=</tspan><tspan dx="0.5">0.388</tspan></text>
<text x="328.2" y="206.20" font-family="Liberation Serif, serif" font-size="12.4" fill="#000"><tspan font-style="italic">ξ</tspan><tspan dx="0.9">=</tspan><tspan dx="0.5">0.1</tspan></text>
<text x="328.2" y="230.70" font-family="Liberation Serif, serif" font-size="12.4" fill="#000"><tspan font-style="italic">ξ</tspan><tspan dx="0.9">=</tspan><tspan dx="0.5">0</tspan></text>
</svg>
</body></html>
